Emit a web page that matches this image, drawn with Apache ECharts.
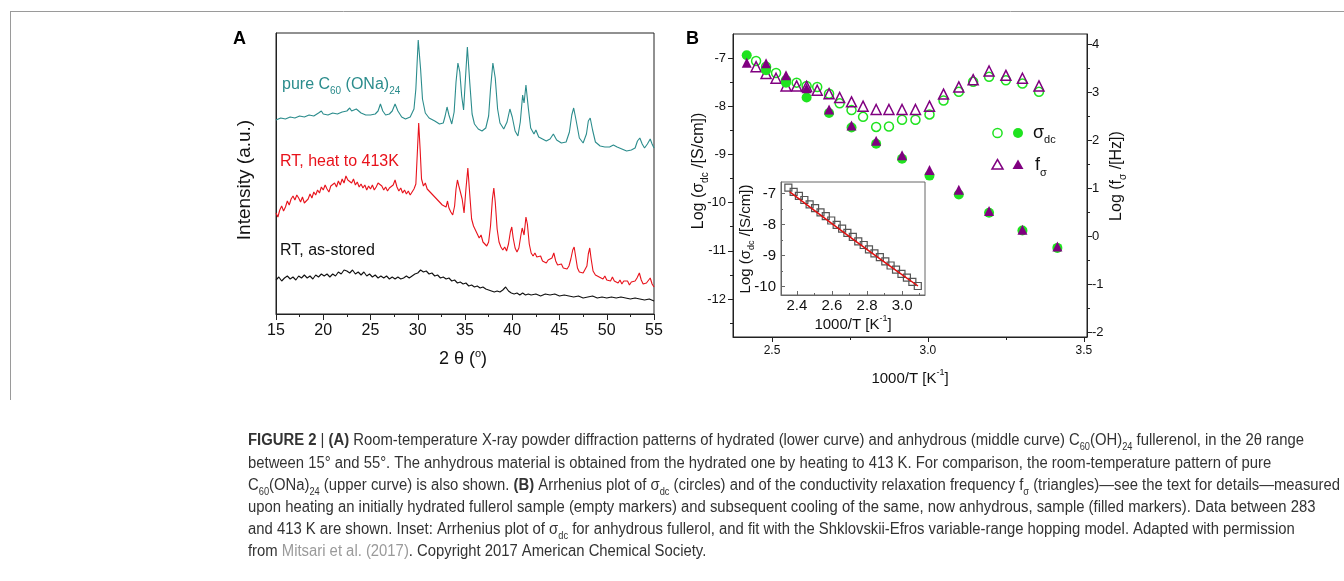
<!DOCTYPE html>
<html><head><meta charset="utf-8">
<script src="https://cdn.jsdelivr.net/npm/echarts@6/dist/echarts.min.js"></script>
<style>html,body{margin:0;padding:0;background:#fff}#c{width:1344px;height:581px}</style>
</head><body><div id="c"></div>
<script>
// ---------- Panel A: XRD patterns (2θ in degrees, intensity in a.u.) ----------
const xrdPure = [[15,194],[15.5,196],[16,195],[16.5,197],[17,196],[17.5,198],[18,197],[18.5,199],[19,198],[19.5,201],[19.8,203],[20,200],[20.5,199],[21,201],[21.5,200],[22,202],[22.5,203],[22.8,206],[23,203],[23.5,205],[23.7,207],[24,201],[24.5,199],[25,199],[25.5,200],[25.8,203],[26.05,210],[26.3,203],[26.6,199],[27,200],[27.3,203],[27.6,210],[27.9,203],[28.3,197],[28.7,195],[29.2,197],[29.6,205],[29.8,225],[30.05,274],[30.3,245],[30.5,215],[30.8,201],[31.2,196],[31.8,193],[32.3,190],[32.7,191],[32.9,198],[33.1,207],[33.3,199],[33.6,190],[33.85,202],[34.05,232],[34.25,251],[34.45,242],[34.65,218],[34.85,204],[35.0,228],[35.25,267],[35.5,232],[35.75,200],[36.0,190],[36.4,185],[36.8,183],[37.2,186],[37.5,198],[37.7,225],[37.95,251],[38.2,236],[38.45,205],[38.7,191],[39.1,185],[39.45,192],[39.75,205],[40.0,197],[40.3,183],[40.6,178],[40.85,192],[41.1,219],[41.25,211],[41.45,229],[41.7,206],[41.95,186],[42.3,180],[42.5,184],[42.8,177],[43.2,175],[43.6,173],[44.0,175],[44.35,180],[44.7,174],[45.2,171],[45.7,172],[46.05,182],[46.3,199],[46.5,206],[46.75,194],[47.1,176],[47.5,171],[47.85,180],[48.05,193],[48.25,196],[48.5,184],[48.8,172],[49.3,168],[49.8,167],[50.3,167],[50.7,169],[51.1,167],[51.6,165],[52.1,163],[52.6,164],[53.0,166],[53.25,173],[53.5,176],[53.75,170],[54.0,166],[54.3,170],[54.6,175],[54.8,170],[55.0,166]];
const xrdHeated = [[15,101],[15.2,97],[15.4,104],[15.6,108],[15.8,103],[16,107],[16.2,113],[16.4,109],[16.6,115],[16.8,118],[17,114],[17.2,119],[17.4,116],[17.6,112],[17.8,117],[18,111],[18.2,109],[18.4,115],[18.6,120],[18.8,116],[19,122],[19.2,119],[19.4,124],[19.6,121],[19.8,127],[20,124],[20.2,129],[20.4,125],[20.6,122],[20.8,128],[21,126],[21.2,131],[21.4,127],[21.6,133],[21.8,129],[22,135],[22.2,131],[22.4,138],[22.6,134],[22.8,136],[23,131],[23.2,135],[23.4,129],[23.6,132],[23.8,127],[24,130],[24.2,126],[24.4,129],[24.6,124],[24.8,128],[25,125],[25.2,129],[25.4,124],[25.6,127],[25.8,131],[26,133],[26.2,128],[26.4,124],[26.6,127],[26.8,123],[27,126],[27.2,124],[27.4,129],[27.6,134],[27.8,127],[28,123],[28.2,126],[28.4,121],[28.6,124],[28.8,120],[29,123],[29.2,119],[29.4,122],[29.6,125],[29.8,130],[29.95,160],[30.1,191],[30.25,165],[30.4,135],[30.6,128],[30.8,131],[31,125],[31.2,127],[31.4,121],[31.6,123],[31.8,117],[32,119],[32.2,113],[32.4,115],[32.6,109],[32.8,111],[33.0,107],[33.15,113],[33.3,106],[33.5,102],[33.7,99],[33.9,108],[34.05,125],[34.2,134],[34.35,128],[34.5,130],[34.7,115],[34.9,101],[35.1,125],[35.3,146],[35.5,120],[35.7,95],[35.9,88],[36.1,84],[36.3,80],[36.5,76],[36.7,79],[36.9,72],[37.1,74],[37.3,68],[37.5,72],[37.7,88],[37.9,115],[38.05,126],[38.2,112],[38.4,85],[38.6,72],[38.8,67],[39.0,64],[39.2,67],[39.4,63],[39.6,70],[39.8,82],[39.95,87],[40.1,76],[40.3,66],[40.5,62],[40.7,66],[40.9,78],[41.05,86],[41.25,79],[41.45,97],[41.6,90],[41.8,70],[42.0,61],[42.2,58],[42.4,61],[42.6,57],[42.8,55],[43.0,58],[43.2,53],[43.4,55],[43.6,51],[43.8,54],[44.0,52],[44.2,56],[44.4,61],[44.6,53],[44.8,49],[45.0,47],[45.2,50],[45.4,46],[45.6,48],[45.8,45],[46.0,48],[46.2,55],[46.4,64],[46.55,67],[46.7,58],[46.9,46],[47.1,42],[47.3,44],[47.5,41],[47.7,43],[47.9,48],[48.05,60],[48.2,66],[48.35,55],[48.55,43],[48.8,39],[49.0,41],[49.2,37],[49.4,39],[49.6,35],[49.8,38],[50.0,34],[50.2,36],[50.4,33],[50.6,37],[50.8,33],[51.0,35],[51.2,31],[51.4,34],[51.6,30],[51.8,33],[52.0,31],[52.2,33],[52.4,29],[52.6,32],[52.8,30],[53.0,33],[53.2,36],[53.45,41],[53.65,34],[53.85,30],[54.0,29],[54.2,31],[54.4,33],[54.6,36],[54.8,30],[55.0,27]];
const xrdStored = [[15,34],[15.3,37],[15.6,33],[15.9,36],[16.2,38],[16.5,35],[16.8,37],[17.1,34],[17.4,38],[17.7,36],[18,39],[18.3,36],[18.6,38],[18.9,35],[19.2,39],[19.5,37],[19.8,40],[20.1,38],[20.4,40],[20.7,37],[21,40],[21.3,38],[21.6,42],[21.9,40],[22.2,44],[22.5,43],[22.8,41],[23.1,44],[23.4,40],[23.7,42],[24,39],[24.3,42],[24.6,38],[24.9,40],[25.2,37],[25.5,39],[25.8,36],[26.1,38],[26.4,36],[26.7,38],[27,35],[27.3,37],[27.6,35],[27.9,37],[28.2,35],[28.5,36],[28.8,38],[29.1,36],[29.4,38],[29.7,40],[30.0,41],[30.3,44],[30.6,42],[30.9,43],[31.2,40],[31.5,41],[31.8,38],[32.1,39],[32.4,36],[32.7,37],[33,35],[33.3,36],[33.6,33],[33.9,34],[34.2,31],[34.5,32],[34.8,30],[35.1,31],[35.4,28],[35.7,29],[36,27],[36.3,28],[36.6,26],[36.9,27],[37.2,25],[37.5,24],[37.8,23],[38.1,22],[38.4,23],[38.7,22],[39.0,24],[39.3,27],[39.6,23],[39.9,21],[40.2,20],[40.5,21],[40.8,19],[41.1,21],[41.4,19],[41.7,20],[42,19],[42.5,20],[43,18],[43.5,20],[44,19],[44.5,20],[45,18],[45.5,19],[46,18],[46.5,17],[47,18],[47.5,16],[48,17],[48.5,18],[49,16],[49.5,17],[50,16],[50.5,17],[51,16],[51.5,17],[52,16],[52.5,15],[53,16],[53.5,15],[54,14],[54.5,15],[55,13]];

// ---------- Panel B: Arrhenius plot ----------
const heatInvT  = [2.449,2.481,2.513,2.545,2.579,2.611,2.645,2.683,2.717,2.755,2.792,2.834,2.875,2.917,2.960,3.005,3.050,3.099,3.145,3.196,3.250,3.303,3.356];
const heatSigma = [-7.06,-7.18,-7.31,-7.46,-7.51,-7.58,-7.60,-7.74,-7.94,-8.08,-8.22,-8.43,-8.42,-8.28,-8.28,-8.17,-7.88,-7.70,-7.49,-7.39,-7.46,-7.53,-7.70];
const heatF     = [3.53,3.39,3.29,3.13,3.13,3.12,3.04,2.97,2.89,2.80,2.71,2.64,2.64,2.64,2.64,2.71,2.96,3.11,3.26,3.44,3.35,3.29,3.13];
const coolInvT  = [2.419,2.481,2.545,2.611,2.683,2.755,2.834,2.917,3.005,3.099,3.196,3.303,3.415];
const coolSigma = [-6.94,-7.25,-7.51,-7.82,-8.14,-8.44,-8.78,-9.09,-9.44,-9.83,-10.21,-10.58,-10.94];
const coolF     = [3.61,3.60,3.35,3.08,2.64,2.31,1.99,1.69,1.38,0.97,0.53,0.14,-0.21];
const ticksBx = [2.5,3.0,3.5];
const ticksBl = [-12,-11,-10,-9,-8,-7];
const ticksBr = [-2,-1,0,1,2,3,4];

// ---------- Inset ----------
const insetInvT  = [2.352,2.382,2.412,2.443,2.473,2.504,2.535,2.565,2.596,2.627,2.658,2.688,2.719,2.750,2.781,2.811,2.842,2.873,2.904,2.934,2.965,2.996,3.027,3.058,3.089];
const insetSigma = [-6.81,-6.95,-7.08,-7.21,-7.35,-7.47,-7.61,-7.73,-7.87,-8.01,-8.13,-8.27,-8.40,-8.54,-8.66,-8.80,-8.93,-9.05,-9.19,-9.32,-9.45,-9.59,-9.71,-9.85,-9.98];
const fitInvT  = [2.36,2.60,2.85,3.09];
const fitSigma = [-6.95,-7.97,-9.01,-9.98];
const ticksIx = [2.4,2.6,2.8,3.0];
const ticksIy = [-10,-9,-8,-7];

const F = "'Liberation Sans', Arial, Helvetica, sans-serif";
const GREEN = '#1fe31f', PURPLE = '#800080', TEAL = '#2b8c8c', RED = '#e8121b';

function mk(o) {
  const a = {
    type: 'value', splitLine: {show: false},
    axisLine: {show: true, onZero: false, lineStyle: {color: '#222', width: 1}},
    axisTick: {show: true, inside: false, length: 5, lineStyle: {color: '#222', width: 1}},
    axisLabel: {show: true, color: '#111', fontFamily: F, fontSize: 13},
    minorTick: {show: false}
  };
  for (const k in o) {
    if (a[k] && typeof a[k] === 'object' && !Array.isArray(a[k])) a[k] = Object.assign({}, a[k], o[k]);
    else a[k] = o[k];
  }
  return a;
}
const f1 = v => v.toFixed(1);
const half = arr => arr.slice(0, -1).map((v, i) => (v + arr[i + 1]) / 2);

const xAxis = [
  mk({gridIndex: 0, position: 'bottom', min: 15, max: 55, interval: 5, axisTick: {length: 6}, minorTick: {show: true, splitNumber: 2, length: 3, lineStyle: {color: '#222'}}, axisLabel: {fontSize: 16, margin: 9}}),
  mk({gridIndex: 1, position: 'bottom', min: 2.375, max: 3.51, axisTick: {customValues: ticksBx, length: 5}, axisLabel: {customValues: ticksBx, formatter: f1, fontSize: 12, margin: 8}}),
  mk({gridIndex: 1, position: 'bottom', min: 2.375, max: 3.51, axisLine: {show: false}, axisTick: {customValues: half(ticksBx), length: 3}, axisLabel: {show: false}}),
  mk({gridIndex: 2, position: 'bottom', min: 2.31, max: 3.13, axisLine: {lineStyle: {color: '#666'}}, axisTick: {customValues: ticksIx, inside: true, length: 4, lineStyle: {color: '#666'}}, axisLabel: {customValues: ticksIx, formatter: f1, fontSize: 15, margin: 3}}),
  mk({gridIndex: 2, position: 'bottom', min: 2.31, max: 3.13, axisLine: {show: false}, axisTick: {customValues: half(ticksIx).concat([3.1]), inside: true, length: 2, lineStyle: {color: '#666'}}, axisLabel: {show: false}})
];
const yAxis = [
  mk({gridIndex: 0, position: 'left', min: 0, max: 281, axisTick: {show: false}, axisLabel: {show: false}}),
  mk({gridIndex: 1, position: 'left', min: -12.79, max: -6.5, axisTick: {customValues: ticksBl, length: 5}, axisLabel: {customValues: ticksBl, fontSize: 13, margin: 7}}),
  mk({gridIndex: 1, position: 'left', min: -12.79, max: -6.5, axisLine: {show: false}, axisTick: {customValues: half(ticksBl).concat([-12.5]), length: 3}, axisLabel: {show: false}}),
  mk({gridIndex: 1, position: 'right', min: -2.09, max: 4.21, axisTick: {customValues: ticksBr, length: 5}, axisLabel: {customValues: ticksBr, fontSize: 13, margin: 5}}),
  mk({gridIndex: 1, position: 'right', min: -2.09, max: 4.21, axisLine: {show: false}, axisTick: {customValues: half(ticksBr), length: 3}, axisLabel: {show: false}}),
  mk({gridIndex: 2, position: 'left', min: -10.27, max: -6.63, axisLine: {lineStyle: {color: '#666'}}, axisTick: {customValues: ticksIy, inside: true, length: 4, lineStyle: {color: '#666'}}, axisLabel: {customValues: ticksIy, fontSize: 15, margin: 5}}),
  mk({gridIndex: 2, position: 'left', min: -10.27, max: -6.63, axisLine: {show: false}, axisTick: {customValues: half(ticksIy), inside: true, length: 2, lineStyle: {color: '#666'}}, axisLabel: {show: false}})
];

const zip = (xs, ys) => xs.map((x, i) => [x, ys[i]]);
const lineS = (data, color) => ({type: 'line', xAxisIndex: 0, yAxisIndex: 0, data, showSymbol: false, symbol: 'none', lineStyle: {color, width: 1.1}, silent: true});
const scat = (data, yi, symbol, size, filled, color) => ({
  type: 'scatter', xAxisIndex: 1, yAxisIndex: yi, data, symbol, symbolSize: size, silent: true,
  itemStyle: filled ? {color, borderWidth: 0, opacity: 1} : {color: 'rgba(0,0,0,0)', borderColor: color, borderWidth: 1.5, opacity: 1}
});

const series = [
  lineS(xrdStored, '#111'),
  lineS(xrdHeated, RED),
  lineS(xrdPure, TEAL),
  scat(zip(heatInvT, heatSigma), 1, 'circle', 9, false, GREEN),
  scat(zip(heatInvT, heatF), 3, 'triangle', 10, false, PURPLE),
  scat(zip(coolInvT, coolSigma), 1, 'circle', 10, true, GREEN),
  scat(zip(coolInvT, coolF), 3, 'triangle', 10, true, PURPLE),
  {type: 'scatter', xAxisIndex: 3, yAxisIndex: 5, data: zip(insetInvT, insetSigma), symbol: 'rect', symbolSize: 7, silent: true, z: 5,
   itemStyle: {color: 'rgba(255,255,255,0)', borderColor: '#555', borderWidth: 1.2, opacity: 1}},
  {type: 'line', xAxisIndex: 3, yAxisIndex: 5, data: zip(fitInvT, fitSigma), showSymbol: false, symbol: 'none', smooth: true, silent: true, z: 6, lineStyle: {color: '#e01010', width: 1.5}}
];

// ---------- text helpers ----------
function rt(x, y, text, size, color, opts) {
  opts = opts || {};
  const lh = opts.lh || Math.round(size * 1.3);
  const sub = Math.round(size * 0.62);
  const rich = {
    n: {fontSize: size, fontFamily: F, fill: color, lineHeight: lh},
    b: {fontSize: size, fontFamily: F, fill: color, lineHeight: lh, fontWeight: 'bold'},
    g: {fontSize: size, fontFamily: F, fill: '#9a9a9a', lineHeight: lh},
    s: {fontSize: sub, fontFamily: F, fill: color, lineHeight: sub, verticalAlign: 'bottom'},
    p: {fontSize: sub, fontFamily: F, fill: color, lineHeight: sub, verticalAlign: 'top'}
  };
  return {type: 'text', x, y, rotation: opts.rot || 0, scaleX: opts.sx || 1, z: 100, silent: true,
    style: {text, rich, align: opts.align || 'left', verticalAlign: 'middle'}};
}
const tok = arr => arr.map(([k, t]) => '{' + k + '|' + t + '}').join('');

// caption lines
const cap = [
  [['b','FIGURE 2'],['n',' | '],['b','(A)'],['n',' Room-temperature X-ray powder diffraction patterns of hydrated (lower curve) and anhydrous (middle curve) C'],['s','60'],['n','(OH)'],['s','24'],['n',' fullerenol, in the 2θ range']],
  [['n','between 15° and 55°. The anhydrous material is obtained from the hydrated one by heating to 413 K. For comparison, the room-temperature pattern of pure']],
  [['n','C'],['s','60'],['n','(ONa)'],['s','24'],['n',' (upper curve) is also shown. '],['b','(B)'],['n',' Arrhenius plot of σ'],['s','dc'],['n',' (circles) and of the conductivity relaxation frequency f'],['s','σ'],['n',' (triangles)—see the text for details—measured']],
  [['n','upon heating an initially hydrated fullerol sample (empty markers) and subsequent cooling of the same, now anhydrous, sample (filled markers). Data between 283']],
  [['n','and 413 K are shown. Inset: Arrhenius plot of σ'],['s','dc'],['n',' for anhydrous fullerol, and fit with the Shklovskii-Efros variable-range hopping model. Adapted with permission']],
  [['n','from '],['g','Mitsari et al. (2017)'],['n','. Copyright 2017 American Chemical Society.']]
];
const capY = [441, 464, 486, 508, 530, 552];
const capSize = 16;
// horizontal condensing so the full third line spans the same width as in the figure
const ctx = document.createElement('canvas').getContext('2d');
function meas(tokens, size) {
  let w = 0;
  for (const [k, t] of tokens) {
    const s = (k === 's') ? Math.round(size * 0.62) : size;
    ctx.font = (k === 'b' ? 'bold ' : '') + s + 'px ' + F;
    w += ctx.measureText(t).width;
  }
  return w;
}
const capSX = Math.min(1, 1092 / meas(cap[2], capSize));

const graphics = [
  {type: 'line', z: 100, silent: true, shape: {x1: 10, y1: 11.5, x2: 1344, y2: 11.5}, style: {stroke: '#9a9a9a', lineWidth: 1}},
  {type: 'line', z: 100, silent: true, shape: {x1: 10.5, y1: 11, x2: 10.5, y2: 400}, style: {stroke: '#9a9a9a', lineWidth: 1}},
  rt(233, 39, '{b|A}', 18, '#000'),
  rt(686, 39, '{b|B}', 18, '#000'),
  rt(245, 180, '{n|Intensity (a.u.)}', 19, '#111', {rot: Math.PI / 2, align: 'center'}),
  rt(463, 359, '{n|2 θ (}{p|o}{n|)}', 18, '#111', {align: 'center', lh: 22}),
  rt(282, 85, '{n|pure C}{s|60}{n| (ONa)}{s|24}', 16, TEAL, {lh: 22}),
  rt(280, 162, '{n|RT, heat to 413K}', 16, RED),
  rt(280, 251, '{n|RT, as-stored}', 16, '#111'),
  rt(699, 171, '{n|Log (σ}{s|dc}{n| /[S/cm])}', 16, '#111', {rot: Math.PI / 2, align: 'center', lh: 22}),
  rt(1117, 176, '{n|Log (f}{s|σ}{n| /[Hz])}', 16, '#111', {rot: Math.PI / 2, align: 'center', lh: 22}),
  rt(910, 379, '{n|1000/T [K}{p|-1}{n|]}', 15, '#111', {align: 'center', lh: 22}),
  rt(746, 239, '{n|Log (σ}{s|dc}{n| /[S/cm])}', 15, '#111', {rot: Math.PI / 2, align: 'center', lh: 21}),
  rt(853, 325, '{n|1000/T [K}{p|-1}{n|]}', 15, '#111', {align: 'center', lh: 21}),
  // legend keys
  {type: 'circle', z: 100, silent: true, shape: {cx: 997.5, cy: 133, r: 4.6}, style: {fill: 'none', stroke: GREEN, lineWidth: 1.5}},
  {type: 'circle', z: 100, silent: true, shape: {cx: 1018, cy: 133, r: 5}, style: {fill: GREEN}},
  rt(1033, 133, '{n|σ}{s|dc}', 18, '#111', {lh: 24}),
  {type: 'polygon', z: 100, silent: true, shape: {points: [[992, 169], [1003, 169], [997.5, 159.5]]}, style: {fill: 'none', stroke: PURPLE, lineWidth: 1.5}},
  {type: 'polygon', z: 100, silent: true, shape: {points: [[1012.5, 169], [1023.5, 169], [1018, 159.5]]}, style: {fill: PURPLE}},
  rt(1035, 165, '{n|f}{s|σ}', 18, '#111', {lh: 26})
];
cap.forEach((line, i) => graphics.push(rt(248, capY[i], tok(line), capSize, '#333', {lh: 22, sx: capSX})));

const chart = echarts.init(document.getElementById('c'), null, {renderer: 'canvas', width: 1344, height: 581});
chart.setOption({
  animation: false,
  backgroundColor: '#fff',
  grid: [
    {left: 276, top: 33, width: 378, height: 281, show: true, borderColor: '#222', borderWidth: 1, backgroundColor: 'rgba(0,0,0,0)', containLabel: false, outerBoundsMode: 'none'},
    {left: 733, top: 34, width: 354, height: 303, show: true, borderColor: '#222', borderWidth: 1, backgroundColor: 'rgba(0,0,0,0)', containLabel: false, outerBoundsMode: 'none'},
    {left: 781, top: 182, width: 144, height: 113, show: true, borderColor: '#666', borderWidth: 1, backgroundColor: 'rgba(0,0,0,0)', containLabel: false, outerBoundsMode: 'none'}
  ],
  xAxis, yAxis, series,
  graphic: {elements: graphics}
});
</script></body></html>
